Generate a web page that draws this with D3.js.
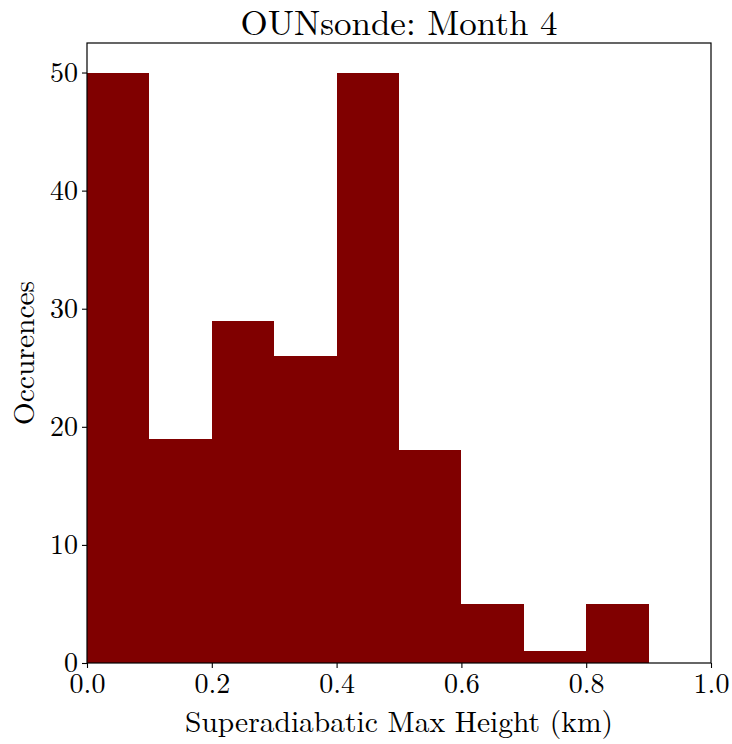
<!DOCTYPE html>
<html>
<head>
<meta charset="utf-8">
<script src="https://cdn.jsdelivr.net/npm/d3@7"></script>
<style>
  html, body { margin: 0; padding: 0; background: #fff; }
  svg text { font-family: "Latin Modern Roman", "CMU Serif", "DejaVu Serif", serif; fill: #000; }
</style>
</head>
<body>
<svg id="chart" width="732" height="744"></svg>
<script>
// Histogram bins (km) and counts
const binStarts = [0.0, 0.1, 0.2, 0.3, 0.4, 0.5, 0.6, 0.7, 0.8];
const binWidth = 0.1;
const counts = [50, 19, 29, 26, 50, 18, 5, 1, 5];
const xTicks = [0.0, 0.2, 0.4, 0.6, 0.8, 1.0];
const yTicks = [0, 10, 20, 30, 40, 50];

const titleText = "OUNsonde: Month 4";
const xLabel = "Superadiabatic Max Height (km)";
const yLabel = "Occurences";

const svg = d3.select("#chart");
const margin = { left: 87, right: 21, top: 43, bottom: 81 };
const W = 732, H = 744;
const innerW = W - margin.left - margin.right;
const innerH = H - margin.top - margin.bottom;

const x = d3.scaleLinear().domain([0, 1]).range([margin.left, margin.left + innerW]);
const y = d3.scaleLinear().domain([0, 52.5]).range([margin.top + innerH, margin.top]);

// Bars (crisp edges so adjacent bins join without seams)
svg.append("g").attr("shape-rendering", "crispEdges").selectAll("rect")
  .data(binStarts.map((s, i) => ({ s, c: counts[i] })))
  .join("rect")
  .attr("x", d => x(d.s))
  .attr("width", d => x(d.s + binWidth) - x(d.s))
  .attr("y", d => y(d.c))
  .attr("height", d => y(0) - y(d.c))
  .attr("fill", "#800000");

// Frame
svg.append("rect")
  .attr("x", margin.left).attr("y", margin.top)
  .attr("width", innerW).attr("height", innerH)
  .attr("fill", "none").attr("stroke", "#000").attr("stroke-width", 1.2);

// Axes
const xAxis = d3.axisBottom(x).tickValues(xTicks).tickFormat(d3.format(".1f")).tickSize(5).tickPadding(3);
const yAxis = d3.axisLeft(y).tickValues(yTicks).tickFormat(d3.format("d")).tickSize(5).tickPadding(4);

const gx = svg.append("g").attr("transform", `translate(0,${margin.top + innerH})`).call(xAxis);
const gy = svg.append("g").attr("transform", `translate(${margin.left},0)`).call(yAxis);
[gx, gy].forEach(g => {
  g.select(".domain").remove();
  g.selectAll(".tick line").attr("stroke", "#000").attr("stroke-width", 1.1);
  g.selectAll(".tick text").style("font-size", "28px");
});
gx.selectAll(".tick text").attr("dy", "0.8em");

// Title and labels
svg.append("text")
  .attr("x", margin.left + innerW / 2).attr("y", 35)
  .attr("text-anchor", "middle").style("font-size", "35px")
  .text(titleText);

svg.append("text")
  .attr("x", margin.left + innerW / 2).attr("y", 732)
  .attr("text-anchor", "middle").style("font-size", "29.5px")
  .text(xLabel);

svg.append("text")
  .attr("transform", `translate(34,${margin.top + innerH / 2}) rotate(-90)`)
  .attr("text-anchor", "middle").style("font-size", "29.5px")
  .text(yLabel);
</script>
</body>
</html>
